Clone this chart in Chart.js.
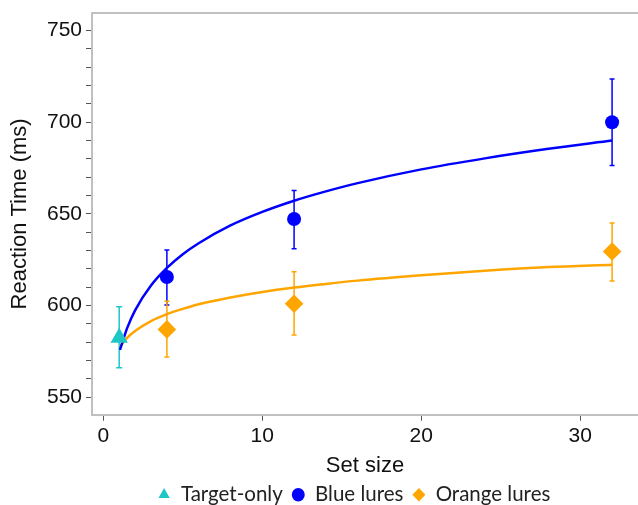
<!DOCTYPE html>
<html>
<head>
<meta charset="utf-8">
<script src="https://cdn.jsdelivr.net/npm/chart.js@4"></script>
<style>
  html, body { margin: 0; padding: 0; background: #ffffff; }
  #wrap { width: 638px; height: 505px; }
</style>
</head>
<body>
<div id="wrap"><canvas id="c" width="638" height="505"></canvas></div>
<script>
// ---- data ----
const legendLabels = ['Target-only', 'Blue lures', 'Orange lures'];
const targetX = [1];
const targetMean = [582.5];
const targetLow = [566.1];
const targetHigh = [599.3];

const lureX = [4, 12, 32];
const blueMean = [615.6, 647.2, 700.0];
const blueLow = [600.3, 631.0, 676.4];
const blueHigh = [630.3, 662.8, 723.6];
const orangeMean = [587.0, 601.0, 629.5];
const orangeLow = [571.9, 583.9, 613.4];
const orangeHigh = [602.4, 618.5, 645.0];

// fitted curves, points
const fitX = [1.05, 1.5, 2, 3, 4, 5, 6, 8, 10, 12, 14, 16, 20, 24, 28, 32];
const blueFit = [575.8, 587.7, 597.4, 610.9, 620.5, 628.0, 634.0, 643.7, 651.1, 657.2, 662.3, 666.8, 674.3, 680.3, 685.5, 690.0];
const orangeFit = [577.6, 582.4, 586.1, 591.5, 595.3, 598.2, 600.7, 604.4, 607.4, 609.8, 611.8, 613.6, 616.5, 619.0, 621.0, 622.3];

const yLabelTicks = [550, 600, 650, 700, 750];
const xLabelTicks = [0, 10, 20, 30];
const xTitle = 'Set size';
const yTitle = 'Reaction Time (ms)';

// ---- colours ----
const CYAN = '#1EC6C6';
const BLUE = '#0000FF';
const ORANGE = '#FFA500';

const pts = (xs, ys) => xs.map((v, i) => ({ x: v, y: ys[i] }));

const errorGroups = [
  { xs: targetX, lo: targetLow, hi: targetHigh, color: CYAN, cap: 3 },
  { xs: lureX, lo: blueLow, hi: blueHigh, color: BLUE, cap: 2.5 },
  { xs: lureX, lo: orangeLow, hi: orangeHigh, color: ORANGE, cap: 2.5 }
];

const errorBarPlugin = {
  id: 'errorBars',
  beforeDatasetsDraw(chart) {
    const { ctx } = chart;
    const xs = chart.scales.x, ys = chart.scales.y;
    ctx.save();
    errorGroups.forEach(g => {
      ctx.strokeStyle = g.color;
      ctx.lineWidth = 1.5;
      g.xs.forEach((xv, i) => {
        const px = xs.getPixelForValue(xv);
        const pt = ys.getPixelForValue(g.hi[i]);
        const pb = ys.getPixelForValue(g.lo[i]);
        ctx.beginPath();
        ctx.moveTo(px, pt); ctx.lineTo(px, pb);
        ctx.moveTo(px - g.cap, pt); ctx.lineTo(px + g.cap, pt);
        ctx.moveTo(px - g.cap, pb); ctx.lineTo(px + g.cap, pb);
        ctx.stroke();
      });
    });
    ctx.restore();
  }
};

// nudge the legend box to where the reference legend sits
const legendShiftPlugin = {
  id: 'legendShift',
  afterLayout(chart) {
    const l = chart.legend;
    if (l) { l.left += 35; l.right += 35; l.top += 10; l.bottom += 10; }
  }
};

const tickFont = { family: '"Liberation Sans", Arial, sans-serif', size: 21 };
const titleFont = { family: '"Liberation Sans", Arial, sans-serif', size: 22 };

new Chart(document.getElementById('c'), {
  type: 'scatter',
  data: {
    datasets: [
      {
        label: legendLabels[0], data: pts(targetX, targetMean), order: 1,
        pointStyle: 'triangle', pointRadius: 10, pointHoverRadius: 10,
        backgroundColor: CYAN, borderColor: CYAN, borderWidth: 0
      },
      {
        label: legendLabels[1], data: pts(lureX, blueMean), order: 1,
        pointStyle: 'circle', pointRadius: 7, pointHoverRadius: 7,
        backgroundColor: BLUE, borderColor: BLUE, borderWidth: 0
      },
      {
        label: legendLabels[2], data: pts(lureX, orangeMean), order: 1,
        pointStyle: 'rectRot', pointRadius: 9.3, pointHoverRadius: 9.3,
        backgroundColor: ORANGE, borderColor: ORANGE, borderWidth: 0
      },
      {
        label: '', fit: true, type: 'line', data: pts(fitX, blueFit), order: 2,
        borderColor: BLUE, borderWidth: 2.5, pointRadius: 0, fill: false,
        cubicInterpolationMode: 'monotone'
      },
      {
        label: '', fit: true, type: 'line', data: pts(fitX, orangeFit), order: 2,
        borderColor: ORANGE, borderWidth: 2.5, pointRadius: 0, fill: false,
        cubicInterpolationMode: 'monotone'
      }
    ]
  },
  options: {
    responsive: false,
    animation: false,
    devicePixelRatio: 1,
    layout: { autoPadding: false, padding: { top: 13, left: 0, right: 0, bottom: 0 } },
    plugins: {
      tooltip: { enabled: false },
      legend: {
        position: 'bottom',
        labels: {
          filter: (item, data) => !data.datasets[item.datasetIndex].fit,
          usePointStyle: true,
          pointStyleWidth: 13,
          boxHeight: 9.5,
          padding: 9,
          color: '#222222',
          font: { family: 'Lato, "Open Sans", sans-serif', size: 20.5 }
        }
      }
    },
    scales: {
      x: {
        type: 'linear', position: 'bottom',
        min: -0.71, max: 33.63,
        afterFit(s) { s.height = 50.7; s.paddingLeft = 0; s.paddingRight = 0; },
        ticks: {
          stepSize: 10, includeBounds: false, autoSkip: false,
          maxRotation: 0, padding: 3,
          color: '#111111', font: tickFont,
          callback: v => (xLabelTicks.includes(v) ? String(v) : '')
        },
        grid: { display: true, drawOnChartArea: false, drawTicks: true, tickLength: 6, tickColor: '#555555', tickWidth: 1 },
        border: { display: true, color: '#C0C0C0', width: 2 },
        title: { display: true, text: xTitle, color: '#111111', font: titleFont, padding: { top: 0, bottom: -13.7 } }
      },
      x2: {
        type: 'linear', position: 'top', min: 0, max: 1,
        afterFit(s) { s.height = 0; },
        ticks: { display: false },
        grid: { display: false, drawTicks: false },
        border: { display: true, color: '#C0C0C0', width: 2 }
      },
      y: {
        type: 'linear', position: 'left',
        min: 540.4, max: 759.6,
        afterFit(s) { s.width = 92; s.paddingTop = 0; s.paddingBottom = 0; },
        ticks: {
          stepSize: 10, includeBounds: false, autoSkip: false, padding: 4,
          color: '#111111', font: tickFont,
          callback: v => (yLabelTicks.includes(v) ? String(v) : '')
        },
        grid: { display: true, drawOnChartArea: false, drawTicks: true, tickLength: 6, tickColor: '#555555', tickWidth: 1 },
        border: { display: true, color: '#C0C0C0', width: 2 },
        title: { display: true, text: yTitle, color: '#111111', font: titleFont, padding: { top: 7, bottom: 0 } }
      }
    }
  },
  plugins: [errorBarPlugin, legendShiftPlugin]
});
</script>
</body>
</html>
